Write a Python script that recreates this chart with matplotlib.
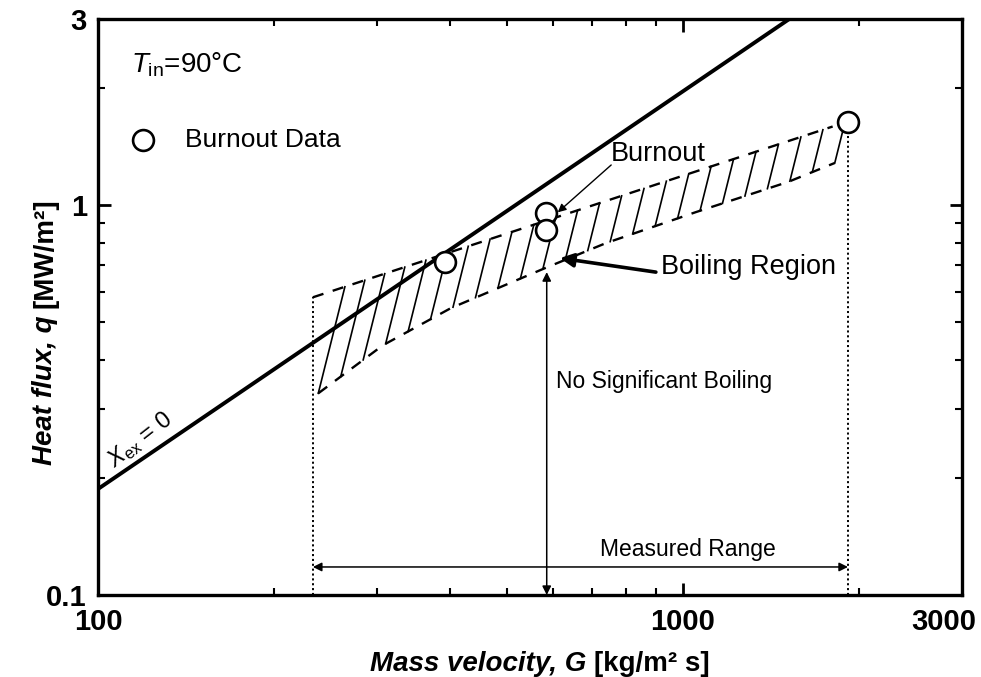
import numpy as np
import matplotlib
matplotlib.use("Agg")
import matplotlib.pyplot as plt
from matplotlib.ticker import FixedLocator, NullFormatter
from matplotlib.transforms import ScaledTranslation

plt.rcParams['font.family'] = ['Liberation Sans', 'DejaVu Sans']
plt.rcParams['mathtext.fontset'] = 'custom'
plt.rcParams['mathtext.rm'] = 'Liberation Sans'
plt.rcParams['mathtext.it'] = 'Liberation Sans:italic'
plt.rcParams['mathtext.bf'] = 'Liberation Sans:bold'
plt.rcParams['lines.scale_dashes'] = False

# burnout data (G in kg/m2s, q in MW/m2)
G_data = [392, 583, 583, 1915]
q_data = [0.714, 0.953, 0.862, 1.635]

# x_ex = 0 line
G_xex = [100, 1520]
q_xex = [0.187, 3.0]

# boiling region boundaries
G_upper = [233, 1803]
q_upper = [0.58, 1.59]
G_lower = [238, 307, 401, 581, 739, 1052, 1512, 1818]
q_lower = [0.329, 0.437, 0.544, 0.689, 0.799, 0.959, 1.146, 1.282]
n_hatch = 24

# measured range / no boiling arrows
G_range = [233, 1915]
q_range = 0.118
G_nsb = 585
q_nsb = [0.1, 0.673]

x_ticks = [100, 1000, 3000]
x_ticklabels = ["100", "1000", "3000"]
y_ticks = [0.1, 1, 3]
y_ticklabels = ["0.1", "1", "3"]


def log_interp(x, xp, fp):
    return 10 ** np.interp(np.log10(x), np.log10(xp), np.log10(fp))


def upper_q(g):
    p = np.polyfit(np.log10(G_upper), np.log10(q_upper), 1)
    return 10 ** np.polyval(p, np.log10(g))


W, H = 981, 677
fig = plt.figure(figsize=(W / 100, H / 100), dpi=100)
ax = fig.add_axes([98 / W, 1 - 595 / H, (962 - 98) / W, (595 - 19) / H])
ax.set_xscale('log')
ax.set_yscale('log')
ax.set_xlim(100, 3000)
ax.set_ylim(0.1, 3)

# x_ex = 0
ax.plot(G_xex, q_xex, color='k', lw=2.8, solid_capstyle='butt', zorder=3)

# boiling region: dashed edges + slanted hatch strokes
ax.plot(G_upper, q_upper, color='k', lw=1.7, dashes=(8, 7), zorder=2)
ax.plot(G_lower, q_lower, color='k', lw=1.7, dashes=(8, 7), zorder=2)
trans = ax.transData
inv = trans.inverted()
for g in np.geomspace(G_lower[0], G_lower[-1], n_hatch):
    ql = log_interp(g, G_lower, q_lower)
    xb, yb = trans.transform((g, ql))
    gt = g
    for _ in range(4):
        qt = upper_q(gt)
        xt, yt = trans.transform((gt, qt))
        xt = xb + 0.25 * (yt - yb)
        gt = inv.transform((xt, yt))[0]
    qt = upper_q(gt)
    ax.plot([g, gt], [ql, qt], color='k', lw=1.2, zorder=2)

# dotted range limits
ax.plot([G_upper[0], G_upper[0]], [0.1, q_upper[0]], color='k', lw=1.4,
        dashes=(1.5, 2), zorder=2)
ax.plot([G_data[-1], G_data[-1]], [0.1, q_data[-1]], color='k', lw=1.4,
        dashes=(1.5, 2), zorder=2)

# burnout data
ax.plot(G_data, q_data, 'o', ms=15, mfc='white', mec='k', mew=1.9,
        ls='none', zorder=4)

# legend
ax.plot([119.5], [1.47], 'o', ms=15, mfc='white', mec='k', mew=1.9,
        clip_on=False)
ax.text(141, 1.47, "Burnout Data", fontsize=19, va='center', ha='left')
ax.text(114, 2.29, r"$T_{\rm in}$=90°C", fontsize=20, va='center', ha='left')

# arrows
ax.annotate('', xy=(G_range[1], q_range), xytext=(G_range[0], q_range),
            arrowprops=dict(arrowstyle='<|-|>', color='k', lw=1.1,
                            mutation_scale=13, shrinkA=0, shrinkB=0))
ax.text(1020, 0.1306, "Measured Range", fontsize=16.5, ha='center', va='center')

ax.annotate('', xy=(G_nsb, q_nsb[1]), xytext=(G_nsb, q_nsb[0]),
            arrowprops=dict(arrowstyle='<|-|>', color='k', lw=1.1,
                            mutation_scale=13, shrinkA=0, shrinkB=0))
ax.text(607, 0.353, "No Significant Boiling", fontsize=16.5, ha='left',
        va='center')

ax.annotate('', xy=(611, 0.958), xytext=(754, 1.267),
            arrowprops=dict(arrowstyle='-|>', color='k', lw=1.0,
                            mutation_scale=12, shrinkA=0, shrinkB=0))
ax.text(752, 1.352, "Burnout", fontsize=19.5, ha='left', va='center')

ax.annotate('', xy=(616, 0.731), xytext=(899, 0.673),
            arrowprops=dict(arrowstyle='-|>', color='k', lw=2.6,
                            mutation_scale=20, shrinkA=0, shrinkB=0))
ax.text(917, 0.693, "Boiling Region", fontsize=19.5, ha='left', va='center')

ax.text(118, 0.25, r"$X_{\rm ex}$ = 0", fontsize=17, rotation=38,
        ha='center', va='center', rotation_mode='anchor')

# axes styling
for s in ax.spines.values():
    s.set_linewidth(2.4)
ax.xaxis.set_major_locator(FixedLocator(x_ticks))
ax.xaxis.set_minor_locator(FixedLocator([200, 300, 400, 500, 600, 700, 800, 900, 2000]))
ax.yaxis.set_major_locator(FixedLocator(y_ticks))
ax.yaxis.set_minor_locator(FixedLocator([0.2, 0.3, 0.4, 0.5, 0.6, 0.7, 0.8, 0.9, 2]))
ax.set_xticklabels(x_ticklabels)
ax.set_yticklabels(y_ticklabels)
ax.xaxis.set_minor_formatter(NullFormatter())
ax.yaxis.set_minor_formatter(NullFormatter())
ax.tick_params(which='both', direction='in', top=True, right=True)
ax.tick_params(which='major', length=9, width=2.0, labelsize=21)
ax.tick_params(which='minor', length=5, width=1.5)
ax.tick_params(axis='x', which='major', pad=9)
ax.tick_params(axis='y', which='major', pad=8)
for lab in ax.get_xticklabels() + ax.get_yticklabels():
    lab.set_fontweight('bold')
# keep "3000" inside the picture, as in the original
last = ax.get_xticklabels()[-1]
last.set_horizontalalignment('right')
last.set_transform(last.get_transform()
                   + ScaledTranslation(10 / 72, 0, fig.dpi_scale_trans))

# axis labels in two parts (italic name, upright unit)
r = fig.canvas.get_renderer()
lab_kw = dict(fontsize=20, fontweight='bold')
xa = fig.text(0, 0, "Mass velocity, G ", fontstyle='italic', **lab_kw)
xb = fig.text(0, 0, "[kg/m² s]", **lab_kw)
wa = xa.get_window_extent(r).width
wb = xb.get_window_extent(r).width
x0 = 540 - (wa + wb) / 2
ybase = 1 - 671 / H
xa.set_position((x0 / W, ybase))
xb.set_position(((x0 + wa) / W, ybase))

ya = fig.text(0, 0, "Heat flux, q ", fontstyle='italic', rotation=90,
              rotation_mode='anchor', ha='left', va='baseline', **lab_kw)
yb = fig.text(0, 0, "[MW/m²]", rotation=90, rotation_mode='anchor',
              ha='left', va='baseline', **lab_kw)
ha_ = ya.get_window_extent(r).height
hb_ = yb.get_window_extent(r).height
y0 = (470 + 193) / 2 + (ha_ + hb_) / 2  # bottom start, pixels from top
ya.set_position((52 / W, 1 - y0 / H))
yb.set_position((52 / W, 1 - (y0 - ha_) / H))

fig.savefig("out.png", dpi=100)
